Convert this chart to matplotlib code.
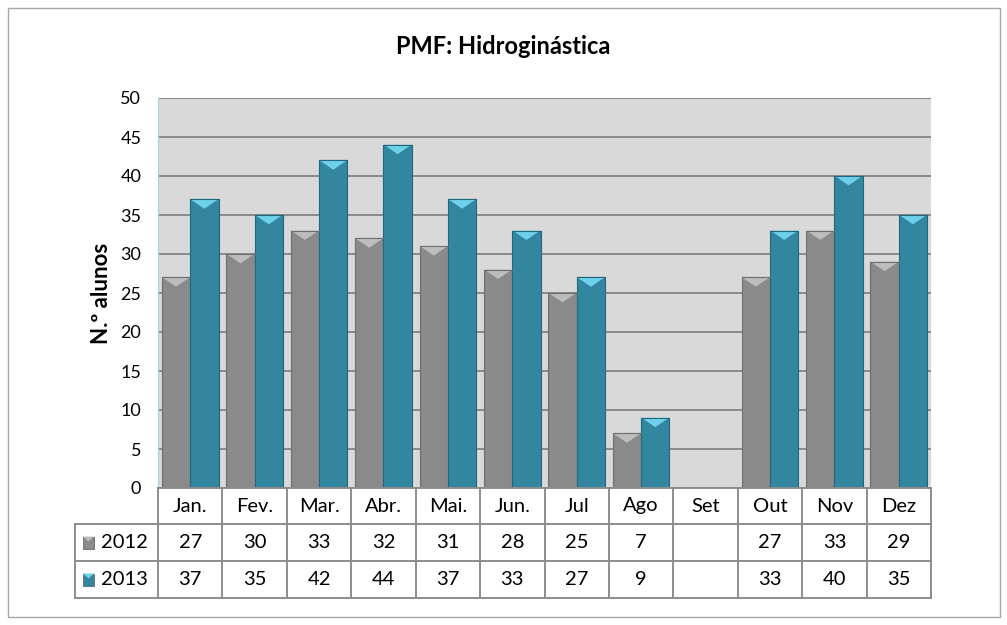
import matplotlib.pyplot as plt
import numpy as np
from matplotlib.patches import Polygon, Rectangle

plt.rcParams['font.family'] = ['Lato', 'DejaVu Sans']

# data
months = ['Jan.', 'Fev.', 'Mar.', 'Abr.', 'Mai.', 'Jun.', 'Jul', 'Ago', 'Set', 'Out', 'Nov', 'Dez']
v2012 = [27, 30, 33, 32, 31, 28, 25, 7, None, 27, 33, 29]
v2013 = [37, 35, 42, 44, 37, 33, 27, 9, None, 33, 40, 35]
series = ['2012', '2013']

W, H = 1007, 625
c_grey, c_grey_top, c_grey_edge = '#8a8a8a', '#bdbdbd', '#6e6e6e'
c_teal, c_teal_top, c_teal_edge = '#33869f', '#6fd0ea', '#22687d'

def fx(px):
    return px / W

def fy(py):
    return 1 - py / H

fig = plt.figure(figsize=(W / 100, H / 100), dpi=100)
fig.patches.append(Rectangle((fx(8), fy(617)), fx(992), 609 / H, transform=fig.transFigure,
                             fill=False, edgecolor='#a6a6a6', lw=1))

left, right, top, bottom = 158, 931, 98, 488
ax = fig.add_axes([fx(left), fy(bottom), fx(right - left), (bottom - top) / H])
ax.set_facecolor('#d9d9d9')
ax.set_xlim(-0.5, len(months) - 0.5)
ax.set_ylim(0, 50)
ax.set_yticks(range(0, 51, 5))
ax.tick_params(axis='y', length=0, labelsize=13, pad=12)
ax.set_xticks([])
ax.grid(axis='y', color='#8a8a8a', lw=1.4)
ax.set_axisbelow(True)
for s in ['top', 'right', 'bottom']:
    ax.spines[s].set_visible(False)
ax.spines['left'].set_color('#a9cfe0')

w = 0.44
bev = 1.2
x = np.arange(len(months))
for vals, off, col, tcol, ecol in [(v2012, -w / 2, c_grey, c_grey_top, c_grey_edge),
                                   (v2013, w / 2, c_teal, c_teal_top, c_teal_edge)]:
    for i, v in enumerate(vals):
        if v is None:
            continue
        xc = x[i] + off
        ax.bar(xc, v, width=w, color=col, edgecolor=ecol, lw=0.8, zorder=3)
        x0, x1 = xc - w / 2, xc + w / 2
        ax.add_patch(Polygon([(x0, v), (x1, v), (x1 - 0.06, v - 0.3), (xc, v - bev), (x0 + 0.06, v - 0.3)],
                             closed=True, facecolor=tcol, edgecolor='none', zorder=4))
        ax.plot([x0, x1], [v, v], color=ecol, lw=0.8, zorder=5)

ax.set_ylabel('N.º alunos', fontsize=16, fontweight='bold', labelpad=6)
fig.text(0.5, fy(47), 'PMF: Hidroginástica', ha='center', va='center', fontsize=17, fontweight='bold')

# data table
cw = (right - left) / len(months)
rows = [488, 524, 561, 598]
lc = '#8c8c8c'
def hline(py, x0, x1):
    fig.add_artist(plt.Line2D([fx(x0), fx(x1)], [fy(py), fy(py)], color=lc, lw=1.4, transform=fig.transFigure))
def vline(px, y0, y1):
    fig.add_artist(plt.Line2D([fx(px), fx(px)], [fy(y0), fy(y1)], color=lc, lw=1.4, transform=fig.transFigure))

hline(rows[0], left, right)
for r in rows[1:]:
    hline(r, 75, right)
vline(75, rows[1], rows[3])
for k in range(len(months) + 1):
    vline(left + k * cw, rows[0], rows[3])

fs = 14.5
for k, m in enumerate(months):
    cx = fx(left + (k + 0.5) * cw)
    fig.text(cx, fy((rows[0] + rows[1]) / 2), m, ha='center', va='center', fontsize=fs)
    for j, vals in enumerate([v2012, v2013]):
        if vals[k] is not None:
            fig.text(cx, fy((rows[j + 1] + rows[j + 2]) / 2), str(vals[k]), ha='center', va='center', fontsize=fs)

for j, (name, col, tcol) in enumerate([(series[0], c_grey, c_grey_top), (series[1], c_teal, c_teal_top)]):
    cy = (rows[j + 1] + rows[j + 2]) / 2
    fig.patches.append(Rectangle((fx(83), fy(cy + 6)), fx(11), 12 / H, transform=fig.transFigure,
                                 facecolor=col, edgecolor='#555555', lw=0.5))
    fig.patches.append(Polygon([(fx(83), fy(cy - 6)), (fx(94), fy(cy - 6)), (fx(88.5), fy(cy - 1))],
                               transform=fig.transFigure, facecolor=tcol, edgecolor='none'))
    fig.text(fx(101), fy(cy), name, ha='left', va='center', fontsize=fs)

fig.savefig('out.png', dpi=100)
